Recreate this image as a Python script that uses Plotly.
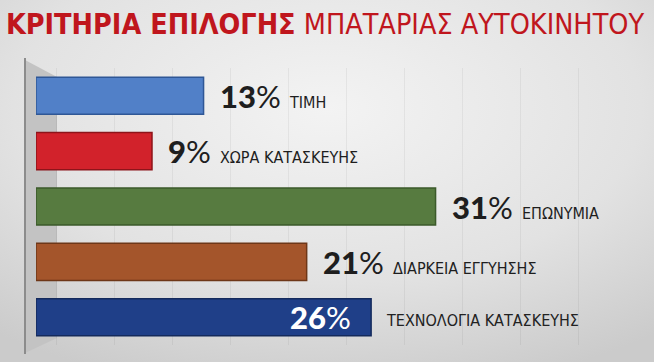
import base64
import plotly.graph_objects as go

# ---- data ----
categories = ["ΤΙΜΗ", "ΧΩΡΑ ΚΑΤΑΣΚΕΥΗΣ", "ΕΠΩΝΥΜΙΑ", "ΔΙΑΡΚΕΙΑ ΕΓΓΥΗΣΗΣ", "ΤΕΧΝΟΛΟΓΙΑ ΚΑΤΑΣΚΕΥΗΣ"]
values = [13, 9, 31, 21, 26]
bar_colors = ["#5180c8", "#d2222b", "#577b40", "#a4552b", "#1f3f88"]
edge_colors = ["#2f5796", "#8e141a", "#3b5a2a", "#6e3718", "#142a5c"]
title_bold = "ΚΡΙΤΗΡΙΑ ΕΠΙΛΟΓΗΣ"
title_rest = "ΜΠΑΤΑΡΙΑΣ ΑΥΤΟΚΙΝΗΤΟΥ"

W, H = 654, 362
ML, MR, MT, MB = 36, 38, 68, 17
PW, PH = W - ML - MR, H - MT - MB
XMAX = 45


def px(x):
    return (x - ML) / PW


def py(y):
    return (H - MB - y) / PH


svg = (
    '<svg xmlns="http://www.w3.org/2000/svg" width="654" height="362">'
    '<defs><radialGradient id="g" cx="0.5" cy="0.3" r="0.8">'
    '<stop offset="0" stop-color="#f3f3f3"/><stop offset="0.6" stop-color="#e2e2e2"/>'
    '<stop offset="1" stop-color="#cbcbcb"/></radialGradient></defs>'
    '<rect width="654" height="362" fill="url(#g)"/></svg>'
)
bg_src = "data:image/svg+xml;base64," + base64.b64encode(svg.encode()).decode()

fig = go.Figure()
fig.add_trace(go.Bar(
    x=values, y=categories, orientation="h",
    marker=dict(color=bar_colors, line=dict(color=edge_colors, width=1.5)),
    width=0.67, hoverinfo="skip",
))

annotations = []
pct_font = "Lato, 'Open Sans', sans-serif"
name_font = "'Liberation Sans Narrow', 'DejaVu Sans Condensed', 'Open Sans', sans-serif"
for cat, v in zip(categories, values):
    if cat == "ΤΕΧΝΟΛΟΓΙΑ ΚΑΤΑΣΚΕΥΗΣ":
        annotations.append(dict(
            x=v, y=cat, xref="x", yref="y", xanchor="right", yanchor="middle",
            xshift=-18, showarrow=False,
            text=f"<span style='font-weight:900'>{v}</span>%",
            font=dict(family=pct_font, size=31, color="white"),
        ))
        annotations.append(dict(
            x=v, y=cat, xref="x", yref="y", xanchor="left", yanchor="middle",
            xshift=13, yshift=-3, showarrow=False, text=cat,
            font=dict(family=name_font, size=16, color="#222222"),
        ))
    else:
        annotations.append(dict(
            x=v, y=cat, xref="x", yref="y", xanchor="left", yanchor="middle",
            xshift=14, showarrow=False,
            text=(f"<span style='font-weight:900'>{v}</span>%"
                  f"<span style='font-size:16px;font-family:Liberation Sans Narrow,DejaVu Sans Condensed,sans-serif'>  {cat}</span>"),
            font=dict(family=pct_font, size=31, color="#1e1e1e"),
        ))

shapes = [
    dict(type="path", xref="paper", yref="paper", layer="below",
         path=(f"M {px(25)} {py(60)} L {px(57)} {py(77)} L {px(57)} {py(338)} "
               f"L {px(25)} {py(353)} Z"),
         fillcolor="#c3c3c3", line=dict(width=0)),
    dict(type="line", xref="paper", yref="paper", layer="below",
         x0=px(25), x1=px(25), y0=py(58), y1=py(354),
         line=dict(color="#8c8c8c", width=2)),
]

fig.update_layout(
    width=W, height=H,
    margin=dict(l=ML, r=MR, t=MT, b=MB),
    paper_bgcolor="rgba(0,0,0,0)", plot_bgcolor="rgba(0,0,0,0)",
    showlegend=False, bargap=0.33,
    title=dict(
        text=f"<b>{title_bold}</b> {title_rest}",
        x=0.497, xref="container", xanchor="center",
        y=1 - 24 / H, yref="container", yanchor="middle",
        font=dict(family="'Liberation Sans Narrow', 'DejaVu Sans Condensed', sans-serif",
                  size=28.5, color="#c0161d"),
    ),
    xaxis=dict(range=[0, XMAX], showticklabels=False, zeroline=False,
               showgrid=True, gridcolor="rgba(0,0,0,0.05)", tick0=1.6, dtick=4.5,
               fixedrange=True),
    yaxis=dict(autorange="reversed", showticklabels=False, showgrid=False,
               zeroline=False, fixedrange=True),
    annotations=annotations,
    shapes=shapes,
    images=[dict(source=bg_src, xref="paper", yref="paper",
                 x=px(0), y=py(0), sizex=W / PW, sizey=H / PH,
                 xanchor="left", yanchor="top", sizing="stretch", layer="below")],
)

fig.write_html("out.html")
